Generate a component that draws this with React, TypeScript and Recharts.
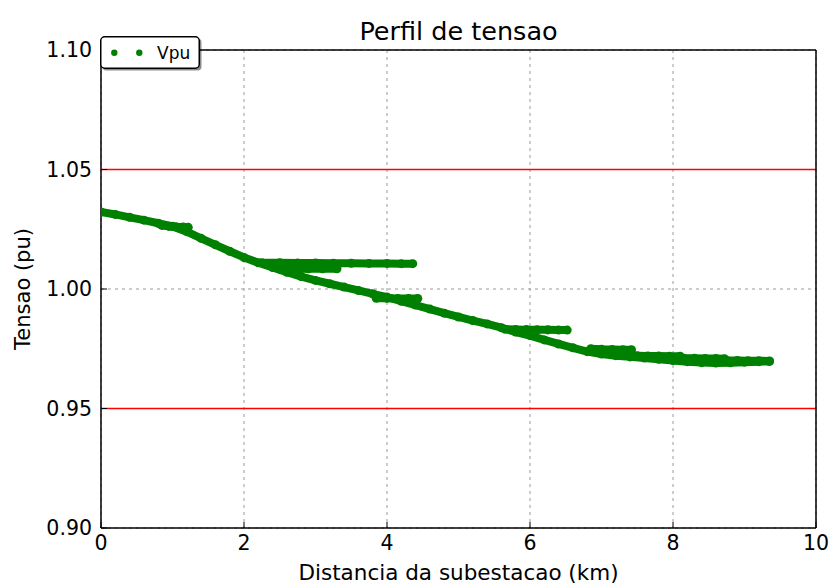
import {
  ScatterChart, Scatter, XAxis, YAxis, ZAxis, CartesianGrid, ReferenceLine, Legend,
} from 'recharts';

// ── Main feeder (tronco) ────────────────────────────────────────────────
const trunkKm = [
  0, 0.2, 0.4, 0.6, 0.8, 1.0, 1.2, 1.4, 1.6, 1.8, 2.0, 2.2, 2.4, 2.6, 2.8, 3.0,
  3.2, 3.4, 3.6, 3.8, 4.0, 4.2, 4.4, 4.6, 4.8, 5.0, 5.2, 5.4, 5.6, 5.8, 6.0, 6.2,
  6.4, 6.6, 6.8, 7.0, 7.2, 7.4, 7.6, 7.8, 8.0, 8.2, 8.4, 8.6, 8.8, 9.0, 9.2, 9.35,
];
const trunkPu = [
  1.0322, 1.0312, 1.0300, 1.0288, 1.0275, 1.0262, 1.0240, 1.0212, 1.0185, 1.0158,
  1.0132, 1.0110, 1.0090, 1.0070, 1.0052, 1.0036, 1.0022, 1.0008, 0.9994, 0.9980,
  0.9966, 0.9949, 0.9933, 0.9916, 0.9899, 0.9883, 0.9868, 0.9854, 0.9838, 0.9820,
  0.9805, 0.9787, 0.9770, 0.9754, 0.9738, 0.9728, 0.9721, 0.9716, 0.9711, 0.9706,
  0.9701, 0.9696, 0.9692, 0.9690, 0.9691, 0.9694, 0.9696, 0.9697,
];

// ── Laterais (ramais) ───────────────────────────────────────────────────
const lat1Km = [0.85, 0.95, 1.05, 1.15, 1.22];
const lat1Pu = [1.0266, 1.0262, 1.0260, 1.0259, 1.0258];

const lat2Km = [2.25, 2.5, 2.75, 3.0, 3.25, 3.5, 3.75, 4.0, 4.2, 4.36];
const lat2Pu = [1.0110, 1.0110, 1.0109, 1.0109, 1.0108, 1.0108, 1.0107, 1.0107, 1.0106, 1.0106];

const lat3Km = [2.5, 2.7, 2.9, 3.1, 3.3];
const lat3Pu = [1.0083, 1.0084, 1.0085, 1.0085, 1.0085];

const lat4Km = [3.85, 4.0, 4.15, 4.3, 4.43];
const lat4Pu = [0.9961, 0.9961, 0.9960, 0.9960, 0.9960];

const lat5Km = [5.65, 5.8, 5.95, 6.1, 6.25, 6.4, 6.52];
const lat5Pu = [0.9832, 0.9831, 0.9830, 0.9829, 0.9829, 0.9828, 0.9828];

const lat6Km = [6.85, 7.0, 7.15, 7.3, 7.42];
const lat6Pu = [0.9750, 0.9748, 0.9747, 0.9746, 0.9746];

const lat7Km = [7.35, 7.5, 7.65, 7.8, 7.95, 8.1];
const lat7Pu = [0.9722, 0.9721, 0.9720, 0.9720, 0.9719, 0.9719];

const lat8Km = [8.0, 8.15, 8.3, 8.45, 8.6, 8.72];
const lat8Pu = [0.9711, 0.9710, 0.9710, 0.9709, 0.9709, 0.9708];

const lat9Km = [8.6, 8.75, 8.9, 9.05, 9.2, 9.35];
const lat9Pu = [0.9702, 0.9701, 0.9701, 0.9700, 0.9700, 0.9699];

const xTicks = [0, 2, 4, 6, 8, 10];
const yTicks = [0.9, 0.95, 1.0, 1.05, 1.1];
const limitsPu = [0.95, 1.05];

const GREEN = '#008000';
const FONT = "'DejaVu Sans', sans-serif";

const toPoints = (km: number[], pu: number[]) => km.map((x, i) => ({ x, y: pu[i] }));

const feeders = [
  toPoints(trunkKm, trunkPu),
  toPoints(lat1Km, lat1Pu),
  toPoints(lat2Km, lat2Pu),
  toPoints(lat3Km, lat3Pu),
  toPoints(lat4Km, lat4Pu),
  toPoints(lat5Km, lat5Pu),
  toPoints(lat6Km, lat6Pu),
  toPoints(lat7Km, lat7Pu),
  toPoints(lat8Km, lat8Pu),
  toPoints(lat9Km, lat9Pu),
];

const tickStyle = { fontSize: 20.5, fill: '#000', fontFamily: FONT };
const spine = { stroke: '#000', strokeWidth: 1.5 };
const tickMark = { stroke: '#000', strokeWidth: 1 };

function renderLegend(props: any) {
  const item = (props.payload || [])[0];
  return (
    <svg width={104} height={36} style={{ display: 'block' }}>
      <rect x={2.5} y={2.5} width={99} height={32} rx={4} fill="rgba(0,0,0,0.45)" />
      <rect x={0.75} y={0.75} width={98.5} height={31.5} rx={4} fill="#fff" stroke="#000" strokeWidth={1.5} />
      <circle cx={14.3} cy={16.7} r={3.2} fill={GREEN} />
      <circle cx={39.3} cy={16.7} r={3.2} fill={GREEN} />
      <text x={57} y={22.7} fontSize={17} fontFamily={FONT} fill="#000">
        {item ? item.value : 'Vpu'}
      </text>
    </svg>
  );
}

export default function App() {
  return (
    <div style={{ position: 'relative', width: 829, height: 588, fontFamily: FONT, background: '#fff' }}>
      <style>{'body{margin:0;background:#fff}'}</style>

      {/* ── Title ── */}
      <div
        style={{
          position: 'absolute', left: 101, width: 715, top: 18,
          textAlign: 'center', fontSize: 25.5, lineHeight: '26px', color: '#000',
        }}
      >
        Perfil de tensao
      </div>

      <ScatterChart width={829} height={588} margin={{ top: 49, right: 12, bottom: 0, left: 0 }}>
        <CartesianGrid stroke="#9a9a9a" strokeDasharray="3 4" strokeWidth={1} />
        {limitsPu.map(v => (
          <ReferenceLine key={v} y={v} stroke="#ff0000" strokeWidth={1.5} />
        ))}

        <XAxis
          type="number" dataKey="x" domain={[0, 10]} ticks={xTicks} allowDataOverflow
          height={60} tickSize={-6} tickMargin={13}
          axisLine={spine} tickLine={tickMark} tick={tickStyle}
          label={{ value: 'Distancia da subestacao (km)', position: 'insideBottom', offset: 8, fill: '#000', fontSize: 21.5, fontFamily: FONT }}
        />
        <XAxis
          xAxisId="top" orientation="top" type="number" domain={[0, 10]} ticks={xTicks}
          height={1} tickSize={-6} axisLine={spine} tickLine={tickMark}
          tickFormatter={() => ''}
        />
        <YAxis
          type="number" dataKey="y" domain={[0.9, 1.1]} ticks={yTicks} allowDataOverflow
          width={101} tickSize={-6} tickMargin={15}
          axisLine={spine} tickLine={tickMark} tick={tickStyle}
          tickFormatter={(v: number) => v.toFixed(2)}
          label={{ value: 'Tensao (pu)', angle: -90, position: 'insideLeft', offset: 23, fill: '#000', fontSize: 21, fontFamily: FONT, style: { textAnchor: 'middle' } }}
        />
        <YAxis
          yAxisId="right" orientation="right" type="number" domain={[0.9, 1.1]} ticks={yTicks}
          width={1} tickSize={-6} axisLine={spine} tickLine={tickMark}
          tickFormatter={() => ''}
        />
        <ZAxis range={[60, 60]} />

        {feeders.map((pts, i) => (
          <Scatter
            key={i}
            name="Vpu"
            data={pts}
            fill={GREEN}
            line={{ stroke: GREEN, strokeWidth: 8, strokeLinejoin: 'round' }}
            legendType={i === 0 ? 'circle' : 'none'}
            isAnimationActive={false}
          />
        ))}

        <Legend
          layout="horizontal" verticalAlign="middle" align="center"
          content={renderLegend}
          wrapperStyle={{ left: 100, top: 36, width: 104, height: 36 }}
        />
      </ScatterChart>
    </div>
  );
}
